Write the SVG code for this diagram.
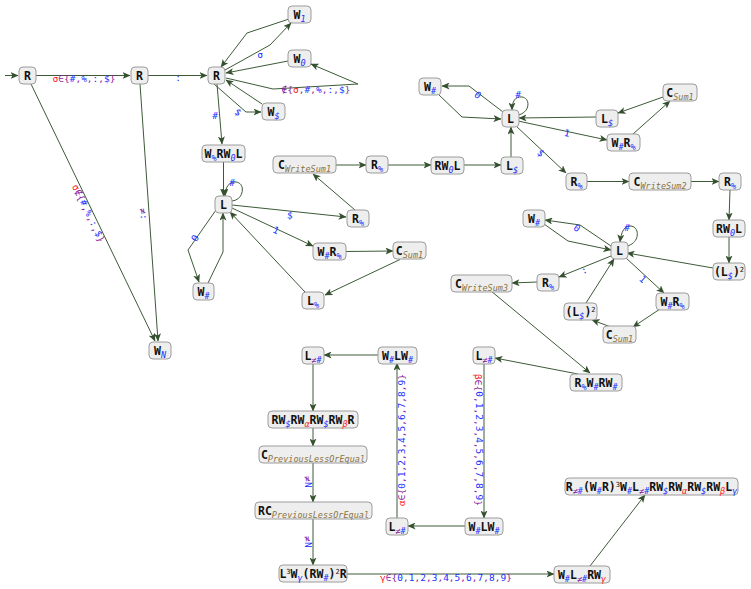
<svg xmlns="http://www.w3.org/2000/svg" width="751" height="589" viewBox="0 0 751 589">
<defs>
<marker id="a" markerWidth="8" markerHeight="7" refX="7.5" refY="3.5" orient="auto" markerUnits="userSpaceOnUse">
<path d="M0,0 L8,3.5 L0,7 L2,3.5 z" fill="#34502f"/>
</marker>
<style>
.n rect{fill:#eeeeee;stroke:#9c9c9c;stroke-width:1}
.t{font-family:"DejaVu Sans Mono",monospace;font-size:11.5px;font-weight:bold;fill:#111;text-anchor:middle}
.s{font-size:8.5px;font-style:italic;font-weight:normal;fill:#2030ff}
.c{font-size:8.5px;font-style:italic;font-weight:normal;fill:#8a7444}
.u{font-size:7px;font-weight:normal;fill:#111}
.r{fill:#ff2020}
.p{fill:#8b1a9b}
.b{fill:#2030ff}
#edges path{fill:none;stroke:#3d5a38;stroke-width:1;marker-end:url(#a)}
.l{font-family:"DejaVu Sans Mono",monospace;font-size:9.5px;fill:#2030ff;text-anchor:middle}
.lr{font-family:"DejaVu Sans Mono",monospace;font-size:9.5px;fill:#2030ff;text-anchor:middle;dominant-baseline:central}
</style>
</defs>
<rect width="751" height="589" fill="#ffffff"/>
<g id="edges">
<path d="M5,75.5 L18,75.5"/>
<path d="M36,75.5 L130,75.5"/>
<path d="M31,84 L155,341"/>
<path d="M148,75.5 L207,75.5"/>
<path d="M140,84 L158,341"/>
<path d="M289,19 L247,33 L221,67"/>
<path d="M225,70 L270,45 L291,23"/>
<path d="M288,61 L226,73"/>
<path d="M226,78 L273,89 L358,84 L311,64"/>
<path d="M262,104 L226,80"/>
<path d="M214,84 L246,112 L261,112"/>
<path d="M217,84 L222,144"/>
<path d="M223.5,162 L223.5,196"/>
<path d="M232,201 C244,200 246,183 236,182 C229,181 225,188 225,196"/>
<path d="M216,210 L188,250 L199,282"/>
<path d="M208,283 L223,252 L223,213"/>
<path d="M232,205 L346,217"/>
<path d="M232,208 L313,246"/>
<path d="M305,292 L230,212"/>
<path d="M346,251.5 L393,251"/>
<path d="M400,259.5 L325,295"/>
<path d="M355,210 L313,174"/>
<path d="M336,165 L366,165"/>
<path d="M388,165 L431,165"/>
<path d="M464,165 L501,165"/>
<path d="M511,157 L511,127"/>
<path d="M518,115 C530,113 531,98 522,97 C515,96 512,102 512,110"/>
<path d="M503,112 L469,86 L442,86"/>
<path d="M438,94 L462,117 L501,119"/>
<path d="M596,117 L519,118"/>
<path d="M663,97 L618,113"/>
<path d="M633,134 L670,101"/>
<path d="M518,121 L607,140"/>
<path d="M516,126 L566,173"/>
<path d="M587,181.5 L629,181.5"/>
<path d="M691,181.5 L719,181.5"/>
<path d="M730,190 L729,220"/>
<path d="M729,237 L729,263"/>
<path d="M713,268 L627,253"/>
<path d="M627,246 C640,243 640,227 631,226 C624,225 621,233 620,242"/>
<path d="M611,246 L580,225 L545,220"/>
<path d="M544,224 L568,241 L611,250"/>
<path d="M611,256 L559,277"/>
<path d="M537,282 L512,283"/>
<path d="M491,291 L590,373"/>
<path d="M586,303 L614,259"/>
<path d="M626,258 L664,293"/>
<path d="M660,309 L633,327"/>
<path d="M611,327 L592,320"/>
<path d="M578,374 L495,358"/>
<path d="M484,363 L484,518"/>
<path d="M465,526 L408,526"/>
<path d="M397,518 L397,363"/>
<path d="M378,355 L324,355"/>
<path d="M313,363 L313,411"/>
<path d="M313,428 L313,446"/>
<path d="M313,462 L313,502"/>
<path d="M313,518 L313,565"/>
<path d="M347,574 L554,574"/>
<path d="M590,566 L645,495"/>
</g>
<g id="labels">
<text class="l" x="84" y="82"><tspan class="r">σ</tspan><tspan class="p">∈{</tspan>#<tspan class="p">,</tspan>%<tspan class="p">,</tspan>:<tspan class="p">,</tspan>$<tspan class="p">}</tspan></text>
<text class="l" x="178" y="81">:</text>
<text class="lr" x="89" y="213" transform="rotate(64.3 89 213)"><tspan class="r">σ</tspan><tspan class="p">∉{</tspan>#<tspan class="p">,</tspan>%<tspan class="p">,</tspan>:<tspan class="p">,</tspan>$<tspan class="p">}</tspan></text>
<text class="lr" x="144" y="214" transform="rotate(86 144 214)"><tspan class="p">≠</tspan>:</text>
<text class="l r" x="260" y="58">σ</text>
<text class="l" x="316" y="93"><tspan class="p">∉{</tspan><tspan class="r">σ</tspan><tspan class="p">,</tspan>#<tspan class="p">,</tspan>%<tspan class="p">,</tspan>:<tspan class="p">,</tspan>$<tspan class="p">}</tspan></text>
<text class="lr" x="238" y="112" transform="rotate(35 238 112)">$</text>
<text class="l" x="215" y="119">#</text>
<text class="l" x="232" y="186">#</text>
<text class="lr" x="195" y="238" transform="rotate(-60 195 238)">0</text>
<text class="lr" x="290" y="215" transform="rotate(6 290 215)">$</text>
<text class="lr" x="276" y="230" transform="rotate(25 276 230)">1</text>
<text class="l" x="518" y="98">#</text>
<text class="lr" x="478" y="95" transform="rotate(37 478 95)">0</text>
<text class="lr" x="567" y="133" transform="rotate(12 567 133)">1</text>
<text class="lr" x="541" y="153" transform="rotate(43 541 153)">$</text>
<text class="l" x="627" y="231">#</text>
<text class="lr" x="577" y="228" transform="rotate(34 577 228)">0</text>
<text class="lr" x="584" y="270" transform="rotate(-22 584 270)">:</text>
<text class="lr" x="643" y="279" transform="rotate(42 643 279)">1</text>
<text class="lr" x="308" y="482" transform="rotate(90 308 482)"><tspan class="p">≠</tspan>N</text>
<text class="lr" x="308" y="542" transform="rotate(90 308 542)"><tspan class="p">≠</tspan>N</text>
<text class="lr" x="479" y="440" transform="rotate(90 479 440)"><tspan class="r">β</tspan><tspan class="p">∈{</tspan>0<tspan class="p">,</tspan>1<tspan class="p">,</tspan>2<tspan class="p">,</tspan>3<tspan class="p">,</tspan>4<tspan class="p">,</tspan>5<tspan class="p">,</tspan>6<tspan class="p">,</tspan>7<tspan class="p">,</tspan>8<tspan class="p">,</tspan>9<tspan class="p">}</tspan></text>
<text class="lr" x="401" y="440" transform="rotate(-90 401 440)"><tspan class="r">α</tspan><tspan class="p">∈{</tspan>0<tspan class="p">,</tspan>1<tspan class="p">,</tspan>2<tspan class="p">,</tspan>3<tspan class="p">,</tspan>4<tspan class="p">,</tspan>5<tspan class="p">,</tspan>6<tspan class="p">,</tspan>7<tspan class="p">,</tspan>8<tspan class="p">,</tspan>9<tspan class="p">}</tspan></text>
<text class="l" x="446" y="581"><tspan class="r">γ</tspan><tspan class="p">∈{</tspan>0<tspan class="p">,</tspan>1<tspan class="p">,</tspan>2<tspan class="p">,</tspan>3<tspan class="p">,</tspan>4<tspan class="p">,</tspan>5<tspan class="p">,</tspan>6<tspan class="p">,</tspan>7<tspan class="p">,</tspan>8<tspan class="p">,</tspan>9<tspan class="p">}</tspan></text>
</g>
<g id="n1" class="n"><rect x="19" y="67" width="17" height="17" rx="4"/><text class="t" x="27.5" y="79.5">R</text></g>
<g id="n2" class="n"><rect x="131" y="67" width="17" height="17" rx="4"/><text class="t" x="139.5" y="79.5">R</text></g>
<g id="n3" class="n"><rect x="208" y="67" width="17" height="17" rx="4"/><text class="t" x="216.5" y="79.5">R</text></g>
<g id="n4" class="n"><rect x="288" y="6" width="23" height="17" rx="4"/><text class="t" x="299.5" y="18.5">W<tspan class="s" dy="3">1</tspan></text></g>
<g id="n5" class="n"><rect x="288" y="50" width="23" height="17" rx="4"/><text class="t" x="299.5" y="62.5">W<tspan class="s" dy="3">0</tspan></text></g>
<g id="n6" class="n"><rect x="262" y="103" width="23" height="17" rx="4"/><text class="t" x="273.5" y="115.5">W<tspan class="s" dy="3">$</tspan></text></g>
<g id="n7" class="n"><rect x="149" y="342" width="22" height="17" rx="4"/><text class="t" x="160" y="354.5">W<tspan class="s" dy="3">N</tspan></text></g>
<g id="n8" class="n"><rect x="202" y="145" width="43" height="17" rx="4"/><text class="t" x="223.5" y="157.5">W<tspan class="s" dy="3">%</tspan><tspan dy="-3">RW</tspan><tspan class="s" dy="3">0</tspan><tspan dy="-3">L</tspan></text></g>
<g id="n9" class="n"><rect x="215" y="196" width="17" height="17" rx="4"/><text class="t" x="223.5" y="208.5">L</text></g>
<g id="n10" class="n"><rect x="193" y="283" width="21" height="17" rx="4"/><text class="t" x="203.5" y="295.5">W<tspan class="s" dy="3">#</tspan></text></g>
<g id="n11" class="n"><rect x="302" y="292" width="22" height="17" rx="4"/><text class="t" x="313" y="304.5">L<tspan class="s" dy="3">%</tspan></text></g>
<g id="n12" class="n"><rect x="313" y="243" width="33" height="17" rx="4"/><text class="t" x="329.5" y="255.5">W<tspan class="s" dy="3">#</tspan><tspan dy="-3">R</tspan><tspan class="s" dy="3">%</tspan></text></g>
<g id="n13" class="n"><rect x="347" y="210" width="22" height="17" rx="4"/><text class="t" x="358" y="222.5">R<tspan class="s" dy="3">%</tspan></text></g>
<g id="n14" class="n"><rect x="393" y="242" width="33" height="17" rx="4"/><text class="t" x="409.5" y="254.5">C<tspan class="c" dy="3">Sum1</tspan></text></g>
<g id="n15" class="n"><rect x="273" y="156" width="63" height="17" rx="4"/><text class="t" x="304.5" y="168.5">C<tspan class="c" dy="3">WriteSum1</tspan></text></g>
<g id="n16" class="n"><rect x="366" y="156" width="22" height="17" rx="4"/><text class="t" x="377" y="168.5">R<tspan class="s" dy="3">%</tspan></text></g>
<g id="n17" class="n"><rect x="431" y="157" width="33" height="17" rx="4"/><text class="t" x="447.5" y="169.5">RW<tspan class="s" dy="3">0</tspan><tspan dy="-3">L</tspan></text></g>
<g id="n18" class="n"><rect x="501" y="157" width="22" height="17" rx="4"/><text class="t" x="512" y="169.5">L<tspan class="s" dy="3">$</tspan></text></g>
<g id="n19" class="n"><rect x="502" y="110" width="17" height="17" rx="4"/><text class="t" x="510.5" y="122.5">L</text></g>
<g id="n20" class="n"><rect x="419" y="78" width="22" height="17" rx="4"/><text class="t" x="430" y="90.5">W<tspan class="s" dy="3">#</tspan></text></g>
<g id="n21" class="n"><rect x="596" y="110" width="22" height="17" rx="4"/><text class="t" x="607" y="122.5">L<tspan class="s" dy="3">$</tspan></text></g>
<g id="n22" class="n"><rect x="663" y="84" width="34" height="17" rx="4"/><text class="t" x="680" y="96.5">C<tspan class="c" dy="3">Sum1</tspan></text></g>
<g id="n23" class="n"><rect x="607" y="134" width="33" height="17" rx="4"/><text class="t" x="623.5" y="146.5">W<tspan class="s" dy="3">#</tspan><tspan dy="-3">R</tspan><tspan class="s" dy="3">%</tspan></text></g>
<g id="n24" class="n"><rect x="566" y="173" width="21" height="17" rx="4"/><text class="t" x="576.5" y="185.5">R<tspan class="s" dy="3">%</tspan></text></g>
<g id="n25" class="n"><rect x="629" y="173" width="62" height="17" rx="4"/><text class="t" x="660" y="185.5">C<tspan class="c" dy="3">WriteSum2</tspan></text></g>
<g id="n26" class="n"><rect x="719" y="173" width="22" height="17" rx="4"/><text class="t" x="730" y="185.5">R<tspan class="s" dy="3">%</tspan></text></g>
<g id="n27" class="n"><rect x="713" y="220" width="32" height="17" rx="4"/><text class="t" x="729" y="232.5">RW<tspan class="s" dy="3">0</tspan><tspan dy="-3">L</tspan></text></g>
<g id="n28" class="n"><rect x="713" y="263" width="32" height="17" rx="4"/><text class="t" x="729" y="275.5">(L<tspan class="s" dy="3">$</tspan><tspan dy="-3">)</tspan><tspan class="u" dy="-4">2</tspan></text></g>
<g id="n29" class="n"><rect x="611" y="242" width="17" height="17" rx="4"/><text class="t" x="619.5" y="254.5">L</text></g>
<g id="n30" class="n"><rect x="523" y="210" width="22" height="17" rx="4"/><text class="t" x="534" y="222.5">W<tspan class="s" dy="3">#</tspan></text></g>
<g id="n31" class="n"><rect x="537" y="274" width="22" height="17" rx="4"/><text class="t" x="548" y="286.5">R<tspan class="s" dy="3">%</tspan></text></g>
<g id="n32" class="n"><rect x="451" y="275" width="61" height="17" rx="4"/><text class="t" x="481.5" y="287.5">C<tspan class="c" dy="3">WriteSum3</tspan></text></g>
<g id="n33" class="n"><rect x="656" y="293" width="33" height="17" rx="4"/><text class="t" x="672.5" y="305.5">W<tspan class="s" dy="3">#</tspan><tspan dy="-3">R</tspan><tspan class="s" dy="3">%</tspan></text></g>
<g id="n34" class="n"><rect x="564" y="303" width="33" height="17" rx="4"/><text class="t" x="580.5" y="315.5">(L<tspan class="s" dy="3">$</tspan><tspan dy="-3">)</tspan><tspan class="u" dy="-4">2</tspan></text></g>
<g id="n35" class="n"><rect x="603" y="326" width="33" height="17" rx="4"/><text class="t" x="619.5" y="338.5">C<tspan class="c" dy="3">Sum1</tspan></text></g>
<g id="n36" class="n"><rect x="570" y="374" width="52" height="17" rx="4"/><text class="t" x="596" y="386.5">R<tspan class="s" dy="3">%</tspan><tspan dy="-3">W</tspan><tspan class="s" dy="3">#</tspan><tspan dy="-3">RW</tspan><tspan class="s" dy="3">#</tspan></text></g>
<g id="n37" class="n"><rect x="473" y="347" width="22" height="17" rx="4"/><text class="t" x="484" y="359.5">L<tspan class="s" dy="3"><tspan class="p">≠</tspan>#</tspan></text></g>
<g id="n38" class="n"><rect x="302" y="347" width="22" height="17" rx="4"/><text class="t" x="313" y="359.5">L<tspan class="s" dy="3"><tspan class="p">≠</tspan>#</tspan></text></g>
<g id="n39" class="n"><rect x="378" y="347" width="39" height="17" rx="4"/><text class="t" x="397.5" y="359.5">W<tspan class="s" dy="3">#</tspan><tspan dy="-3">LW</tspan><tspan class="s" dy="3">#</tspan></text></g>
<g id="n40" class="n"><rect x="268" y="411" width="90" height="17" rx="4"/><text class="t" x="313" y="423.5">RW<tspan class="s" dy="3">$</tspan><tspan dy="-3">RW</tspan><tspan class="s r" dy="3">α</tspan><tspan dy="-3">RW</tspan><tspan class="s" dy="3">$</tspan><tspan dy="-3">RW</tspan><tspan class="s r" dy="3">β</tspan><tspan dy="-3">R</tspan></text></g>
<g id="n41" class="n"><rect x="259" y="446" width="108" height="17" rx="4"/><text class="t" x="313" y="458.5">C<tspan class="c" dy="3">PreviousLessOrEqual</tspan></text></g>
<g id="n42" class="n"><rect x="255" y="502" width="117" height="17" rx="4"/><text class="t" x="313.5" y="514.5">RC<tspan class="c" dy="3">PreviousLessOrEqual</tspan></text></g>
<g id="n43" class="n"><rect x="279" y="565" width="68" height="17" rx="4"/><text class="t" x="313" y="577.5">L<tspan class="u" dy="-4">3</tspan><tspan dy="4">W</tspan><tspan class="s" dy="3">γ</tspan><tspan dy="-3">(RW</tspan><tspan class="s" dy="3">#</tspan><tspan dy="-3">)</tspan><tspan class="u" dy="-4">2</tspan><tspan dy="4">R</tspan></text></g>
<g id="n44" class="n"><rect x="386" y="518" width="22" height="17" rx="4"/><text class="t" x="397" y="530.5">L<tspan class="s" dy="3"><tspan class="p">≠</tspan>#</tspan></text></g>
<g id="n45" class="n"><rect x="465" y="518" width="38" height="17" rx="4"/><text class="t" x="484" y="530.5">W<tspan class="s" dy="3">#</tspan><tspan dy="-3">LW</tspan><tspan class="s" dy="3">#</tspan></text></g>
<g id="n46" class="n"><rect x="554" y="566" width="56" height="17" rx="4"/><text class="t" x="582" y="578.5">W<tspan class="s" dy="3">#</tspan><tspan dy="-3">L</tspan><tspan class="s" dy="3"><tspan class="p">≠</tspan>#</tspan><tspan dy="-3">RW</tspan><tspan class="s r" dy="3">γ</tspan></text></g>
<g id="n47" class="n"><rect x="565" y="478" width="173" height="17" rx="4"/><text class="t" x="651.5" y="490.5">R<tspan class="s" dy="3"><tspan class="p">≠</tspan>#</tspan><tspan dy="-3">(W</tspan><tspan class="s" dy="3">#</tspan><tspan dy="-3">R)</tspan><tspan class="u" dy="-4">3</tspan><tspan dy="4">W</tspan><tspan class="s" dy="3">#</tspan><tspan dy="-3">L</tspan><tspan class="s" dy="3"><tspan class="p">≠</tspan>#</tspan><tspan dy="-3">RW</tspan><tspan class="s" dy="3">$</tspan><tspan dy="-3">RW</tspan><tspan class="s r" dy="3">α</tspan><tspan dy="-3">RW</tspan><tspan class="s" dy="3">$</tspan><tspan dy="-3">RW</tspan><tspan class="s r" dy="3">β</tspan><tspan dy="-3">L</tspan><tspan class="s" dy="3">γ</tspan></text></g>
</svg>
